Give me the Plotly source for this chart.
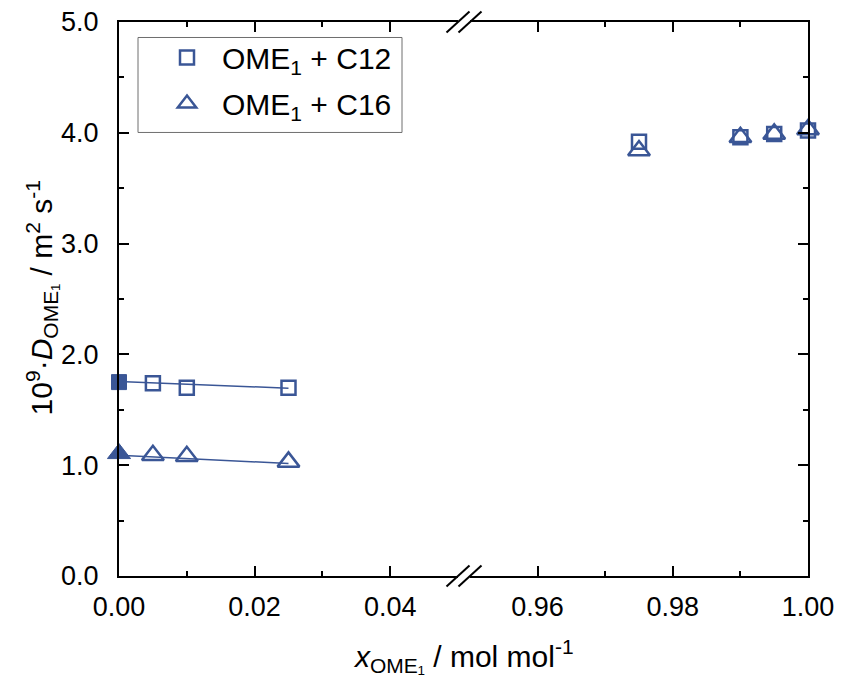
import plotly.graph_objects as go

# ---- data ----
x_low = [0.005, 0.01, 0.025]
x_high = [0.975, 0.99, 0.995, 1.00]
c12_low = [1.74, 1.70, 1.70]
c12_high = [3.92, 3.96, 3.99, 4.02]
c16_low = [1.09, 1.08, 1.03]
c16_high = [3.84, 3.96, 3.99, 4.03]
x_inf = [0.0]
c12_inf = [1.75]
c16_inf = [1.105]
fit_x = [0.0, 0.025]
c12_fit = [1.755, 1.695]
c16_fit = [1.09, 1.015]

yticks = [0, 1, 2, 3, 4, 5]

COL = "rgb(58,86,150)"
FONT = "Liberation Sans, Arial, sans-serif"

OFF = 8  # page body margin offset
W, H = 844 - OFF, 682 - OFF
L, R, T, B = 119 - OFF, 808 - OFF, 21.5 - OFF, 575.7 - OFF
pw, ph = R - L, B - T
gap_l, gap_r = 458 - OFF, 470 - OFF


def px(xs):
    return (xs - OFF - L) / pw


def py(ys):
    return (B - (ys - OFF)) / ph


fig = go.Figure()

fig.add_trace(go.Scatter(x=fit_x, y=c12_fit, mode="lines", line=dict(color=COL, width=1.5),
                         showlegend=False, xaxis="x", yaxis="y", cliponaxis=False))
fig.add_trace(go.Scatter(x=fit_x, y=c16_fit, mode="lines", line=dict(color=COL, width=1.5),
                         showlegend=False, xaxis="x", yaxis="y", cliponaxis=False))

sq = dict(symbol="square-open", size=14, color=COL, line=dict(width=2.5, color=COL))
tr = dict(symbol="triangle-up-open", size=19, color=COL, line=dict(width=2.5, color=COL))

fig.add_trace(go.Scatter(x=x_low, y=c12_low, mode="markers", marker=sq, name="OME<sub>1</sub> + C12",
                         xaxis="x", yaxis="y", legendgroup="a", cliponaxis=False))
fig.add_trace(go.Scatter(x=x_low, y=c16_low, mode="markers", marker=tr, name="OME<sub>1</sub> + C16",
                         xaxis="x", yaxis="y", legendgroup="b", cliponaxis=False))
fig.add_trace(go.Scatter(x=x_high, y=c12_high, mode="markers", marker=sq, showlegend=False,
                         xaxis="x2", yaxis="y", legendgroup="a", cliponaxis=False))
fig.add_trace(go.Scatter(x=x_high, y=c16_high, mode="markers", marker=tr, showlegend=False,
                         xaxis="x2", yaxis="y", legendgroup="b", cliponaxis=False))
fig.add_trace(go.Scatter(x=x_inf, y=c12_inf, mode="markers",
                         marker=dict(symbol="square", size=15, color=COL, line=dict(width=1, color=COL)),
                         showlegend=False, xaxis="x", yaxis="y", cliponaxis=False))
fig.add_trace(go.Scatter(x=x_inf, y=c16_inf, mode="markers",
                         marker=dict(symbol="triangle-up", size=20, color=COL, line=dict(width=1, color=COL)),
                         showlegend=False, xaxis="x", yaxis="y", cliponaxis=False))

axcommon = dict(showline=True, linecolor="black", linewidth=2, ticks="inside", ticklen=10,
                tickwidth=1.5, tickcolor="black", showgrid=False, zeroline=False,
                ticklabeloverflow="allow",
                tickfont=dict(family=FONT, size=27, color="black"))
mn = dict(ticks="inside", ticklen=5, tickwidth=1.5, tickcolor="black")

fig.update_layout(
    width=W, height=H,
    margin=dict(l=L, r=W - R, t=T, b=H - B, pad=0, autoexpand=False),
    paper_bgcolor="white", plot_bgcolor="white",
    font=dict(family=FONT, color="black"),
    xaxis=dict(domain=[0, (gap_l - L) / pw], range=[0, 0.05], dtick=0.02, tick0=0, tickformat=".2f",
               mirror="ticks", anchor="y", ticklabelstandoff=6,
               minor=dict(dtick=0.01, tick0=0, **mn), **axcommon),
    xaxis2=dict(domain=[(gap_r - L) / pw, 1], range=[0.95, 1.0], dtick=0.02, tick0=0, tickformat=".2f",
                mirror="ticks", anchor="y", ticklabelstandoff=6,
                minor=dict(dtick=0.01, tick0=0, **mn), **axcommon),
    yaxis=dict(range=[0, 5], tickvals=yticks, tickformat=".1f", anchor="x", ticklabelstandoff=13,
               minor=dict(dtick=0.5, tick0=0, **mn), **axcommon),
    yaxis2=dict(range=[0, 5], tickvals=yticks, showticklabels=False, overlaying="y", anchor="x2", side="right",
                minor=dict(dtick=0.5, tick0=0, **mn), **axcommon),
    legend=dict(x=px(152), y=py(31), xanchor="left", yanchor="top", bgcolor="rgba(0,0,0,0)",
                borderwidth=0,
                font=dict(family=FONT, size=30, color="black"), tracegroupgap=4,
                itemwidth=60),
    showlegend=True,
)

fig.add_trace(go.Scatter(x=[0.97], y=[-1], xaxis="x2", yaxis="y2", showlegend=False, mode="markers",
                         marker=dict(opacity=0), hoverinfo="skip"))

shapes = []
shapes.append(dict(type="rect", xref="paper", yref="paper", x0=px(138), x1=px(402), y0=py(132), y1=py(37),
                   line=dict(color="rgb(110,110,110)", width=1), fillcolor="rgba(0,0,0,0)", layer="below"))
for yb in (21.5, 575.7):
    for x0 in (458, 470):
        shapes.append(dict(type="line", xref="paper", yref="paper",
                           x0=px(x0 - 11.5), y0=py(yb + 10.5), x1=px(x0 + 11.5), y1=py(yb - 10.5),
                           line=dict(color="black", width=2)))
fig.update_layout(shapes=shapes)

fig.add_annotation(xref="paper", yref="paper", x=px(463.5), y=py(656), xanchor="center", yanchor="middle",
                   text="<i>x</i><sub>OME₁</sub> / mol mol<sup>-1</sup>", showarrow=False,
                   font=dict(family=FONT, size=30, color="black"))
fig.add_annotation(xref="paper", yref="paper", x=px(42), y=py(298), xanchor="center", yanchor="middle",
                   text="10<sup>9</sup>·<i>D</i><sub>OME₁</sub> / m<sup>2</sup> s<sup>-1</sup>", showarrow=False,
                   textangle=-90, font=dict(family=FONT, size=30, color="black"))

fig.write_html("out.html")
